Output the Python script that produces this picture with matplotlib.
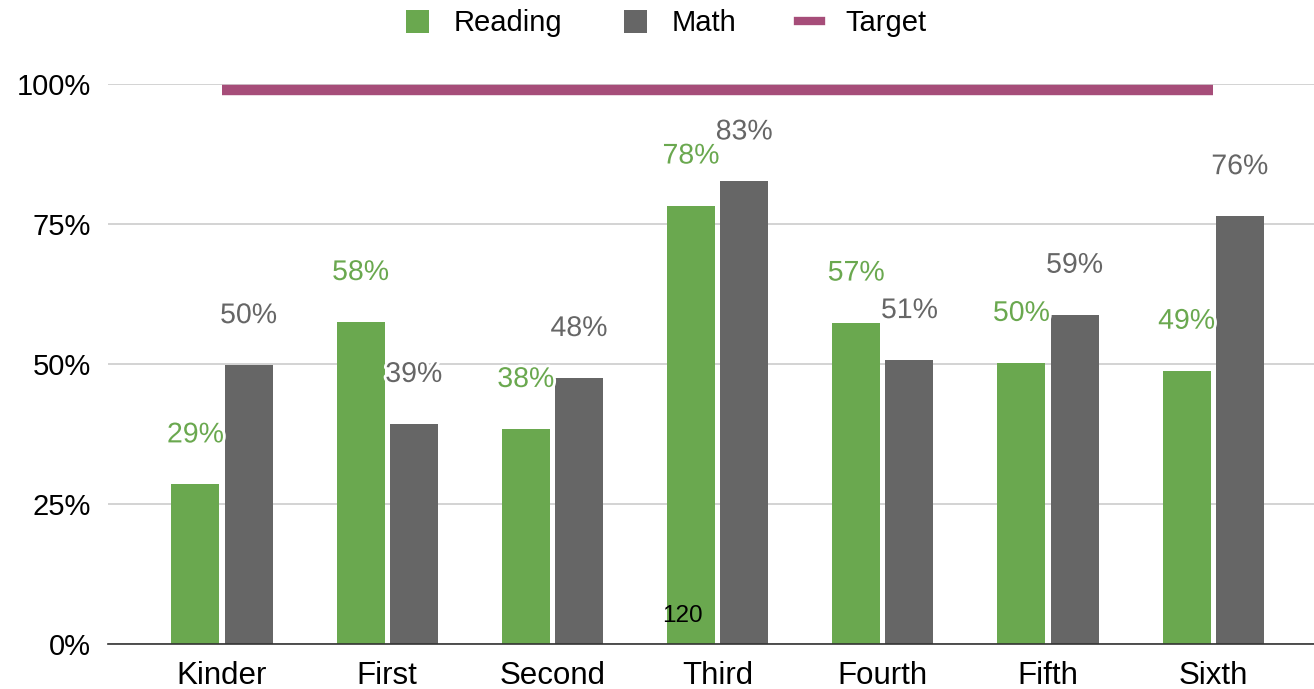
import matplotlib
matplotlib.use('Agg')
from matplotlib import pyplot as plt
from matplotlib.patches import Patch
from matplotlib.lines import Line2D
import matplotlib.patheffects as pe
import numpy as np

plt.rcParams['font.family'] = ['Liberation Sans', 'DejaVu Sans']

# chart data
grades = ['Kinder', 'First', 'Second', 'Third', 'Fourth', 'Fifth', 'Sixth']
reading = [28.5, 57.5, 38.4, 78.3, 57.4, 50.2, 48.8]
math = [49.8, 39.3, 47.5, 82.6, 50.7, 58.8, 76.4]
reading_labels = ['29%', '58%', '38%', '78%', '57%', '50%', '49%']
math_labels = ['50%', '39%', '48%', '83%', '51%', '59%', '76%']
target = [99, 99, 99, 99, 99, 99, 99]
yticks = [0, 25, 50, 75, 100]
ytick_labels = ['0%', '25%', '50%', '75%', '100%']

GREEN = '#6aa84f'
GRAY = '#666666'
PINK = '#a64d79'


def main():
    fig = plt.figure(figsize=(13.14, 6.89), dpi=100)
    ax = fig.add_axes([0.0822, 0.0653, 0.9178, 0.8128])

    x = np.arange(len(grades))
    w = 0.29
    off = 0.161
    rb = ax.bar(x - off, reading, w, color=GREEN, zorder=3)
    mb = ax.bar(x + off, math, w, color=GRAY, zorder=3)

    halo = [pe.withStroke(linewidth=4, foreground='white')]
    for bars, labels, col in [(rb, reading_labels, GREEN), (mb, math_labels, GRAY)]:
        for b, lab in zip(bars, labels):
            ax.annotate(lab, (b.get_x() + b.get_width() / 2, b.get_height()),
                        xytext=(0, 49), textcoords='offset pixels',
                        ha='center', va='center', fontsize=20.5, color=col,
                        path_effects=halo, zorder=5)

    ax.plot(x, target, color=PINK, linewidth=7.5, solid_capstyle='butt',
            clip_on=False, zorder=4)

    # stray label inside the Third reading bar
    ax.text(3 - off - 0.05, 5.0, '120', ha='center', va='center', fontsize=17.5,
            color='black', zorder=6)

    ax.set_xlim(-0.69, 6.61)
    ax.set_ylim(0, 100)
    ax.set_yticks(yticks)
    ax.set_yticklabels(ytick_labels, fontsize=21)
    ax.set_xticks(x)
    ax.set_xticklabels(grades, fontsize=22.5)
    ax.tick_params(length=0)
    ax.tick_params(axis='x', pad=12)
    ax.tick_params(axis='y', pad=12)
    ax.grid(axis='y', color='#cccccc', linewidth=1.2, zorder=0)
    for s in ['top', 'right', 'left']:
        ax.spines[s].set_visible(False)
    ax.spines['bottom'].set_color('#333333')
    ax.spines['bottom'].set_linewidth(1.2)
    ax.spines['bottom'].set_zorder(4)

    handles = [Patch(facecolor=GREEN, label='Reading'),
               Patch(facecolor=GRAY, label='Math'),
               Line2D([0], [0], color=PINK, linewidth=6, label='Target')]
    fig.legend(handles=handles, loc='center', ncol=3, frameon=False,
               fontsize=21, bbox_to_anchor=(0.507, 0.966),
               handlelength=0.8, handleheight=0.85, columnspacing=2.1,
               handletextpad=0.85)

    fig.savefig('out.png', dpi=100)


if __name__ == '__main__':
    main()
